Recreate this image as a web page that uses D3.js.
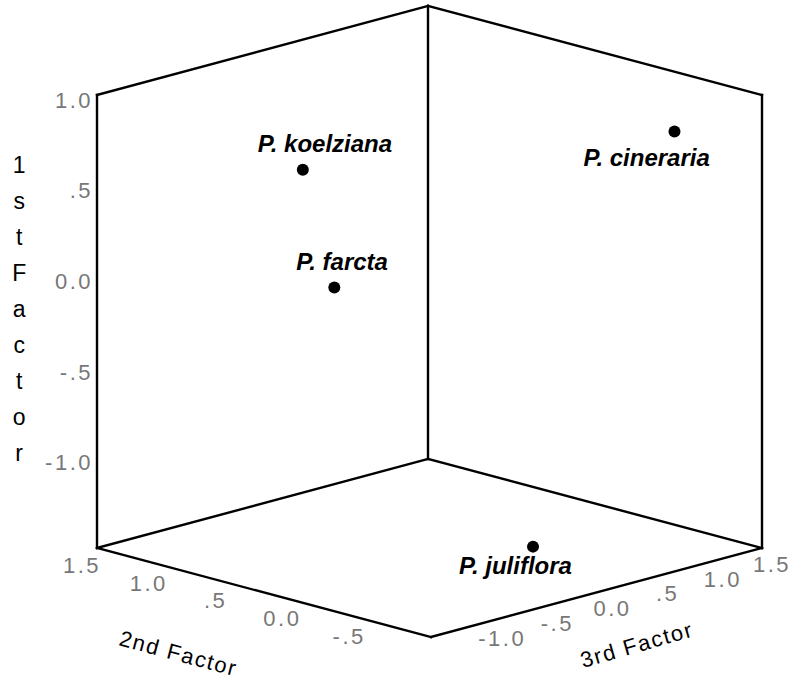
<!DOCTYPE html>
<html>
<head>
<meta charset="utf-8">
<script src="https://cdn.jsdelivr.net/npm/d3@7"></script>
<style>
    body { margin:0; background:white; }
    text { font-family:"Liberation Sans", Arial, Helvetica, sans-serif; }
    .tick { fill:#777; font-size:22px; letter-spacing:2.5px; }
    .title { fill:black; font-size:22px; letter-spacing:1.6px; }
    .name { fill:black; font-size:24px; font-weight:bold; font-style:italic; }
</style>
</head>
<body>
<svg id="graph"></svg>
<script>
// data (factor scores)
var species = ["P. koelziana","P. farcta","P. cineraria","P. juliflora"];
var factor1 = [0.48,-0.02,0.81,-1.35];
var factor2 = [1.0,0.5,-0.7,-0.5];
var factor3 = [-0.24,-0.56,1.07,0.03];

var f1Ticks = [1.0,0.5,0,-0.5,-1.0];
var f1TickText = ["1.0",".5","0.0","-.5","-1.0"];
var f2Ticks = [1.5,1.0,0.5,0,-0.5];
var f2TickText = ["1.5","1.0",".5","0.0","-.5"];
var f3Ticks = [-1.0,-0.5,0,0.5,1.0,1.5];
var f3TickText = ["-1.0","-.5","0.0",".5","1.0","1.5"];

var f1Domain = [-1.5,1.0];
var f2Domain = [-1.0,1.5];
var f3Domain = [-1.5,1.5];

// layout for the name labels (offset from the dot)
var nameOffsets = [[-45,-18],[-38,-18],[-91,34],[-74,27]];

var screen = {width:793,height:680};
var origin = {x:431,y:637};   // front bottom corner

// pseudo 3d: every factor gets its own x and y scale
var s1y = d3.scaleLinear().domain(f1Domain).range([0,-453]);
var s2x = d3.scaleLinear().domain(f2Domain).range([0,-334]);
var s2y = d3.scaleLinear().domain(f2Domain).range([0,-89]);
var s3x = d3.scaleLinear().domain(f3Domain).range([0,331]);
var s3y = d3.scaleLinear().domain(f3Domain).range([0,-89]);

var project = function(a,b,c)
{
    return [origin.x+s2x(b)+s3x(c), origin.y+s1y(a)+s2y(b)+s3y(c)];
}

var drawBox = function(svg)
{
    var lo1 = f1Domain[0], hi1 = f1Domain[1];
    var lo2 = f2Domain[0], hi2 = f2Domain[1];
    var lo3 = f3Domain[0], hi3 = f3Domain[1];
    var edges = [
        // floor
        [[lo1,hi2,lo3],[lo1,lo2,lo3]],
        [[lo1,lo2,lo3],[lo1,lo2,hi3]],
        [[lo1,hi2,lo3],[lo1,hi2,hi3]],
        [[lo1,hi2,hi3],[lo1,lo2,hi3]],
        // verticals
        [[lo1,hi2,lo3],[hi1,hi2,lo3]],
        [[lo1,hi2,hi3],[hi1,hi2,hi3]],
        [[lo1,lo2,hi3],[hi1,lo2,hi3]],
        // top back
        [[hi1,hi2,lo3],[hi1,hi2,hi3]],
        [[hi1,hi2,hi3],[hi1,lo2,hi3]]
    ];
    svg.append("g")
        .selectAll("line")
        .data(edges)
        .enter()
        .append("line")
        .attr("x1",function(e){return project(e[0][0],e[0][1],e[0][2])[0]})
        .attr("y1",function(e){return project(e[0][0],e[0][1],e[0][2])[1]})
        .attr("x2",function(e){return project(e[1][0],e[1][1],e[1][2])[0]})
        .attr("y2",function(e){return project(e[1][0],e[1][1],e[1][2])[1]})
        .attr("stroke","black")
        .attr("stroke-width",2.4)
        .attr("stroke-linecap","square")
}

var drawTicks = function(svg)
{
    var g = svg.append("g");
    //1st factor, on the left edge
    g.selectAll(".t1")
        .data(f1Ticks)
        .enter()
        .append("text")
        .classed("tick",true)
        .attr("text-anchor","end")
        .attr("x",function(d){return project(d,f2Domain[1],f3Domain[0])[0]-4})
        .attr("y",function(d){return project(d,f2Domain[1],f3Domain[0])[1]+5})
        .attr("dy","0.35em")
        .text(function(d,i){return f1TickText[i]})
    //2nd factor, front left floor edge
    g.selectAll(".t2")
        .data(f2Ticks)
        .enter()
        .append("text")
        .classed("tick",true)
        .attr("text-anchor","middle")
        .attr("x",function(d){return project(f1Domain[0],d,f3Domain[0])[0]-15})
        .attr("y",function(d){return project(f1Domain[0],d,f3Domain[0])[1]+17})
        .attr("dy","0.35em")
        .text(function(d,i){return f2TickText[i]})
    //3rd factor, front right floor edge
    g.selectAll(".t3")
        .data(f3Ticks)
        .enter()
        .append("text")
        .classed("tick",true)
        .attr("text-anchor","middle")
        .attr("x",function(d){return Math.min(project(f1Domain[0],f2Domain[0],d)[0]+16,772)})
        .attr("y",function(d){return project(f1Domain[0],f2Domain[0],d)[1]+16})
        .attr("dy","0.35em")
        .text(function(d,i){return f3TickText[i]})
}

var drawLabels = function(svg)
{
    var labels = svg.append("g");
    //1st factor, stacked letters
    labels.selectAll(".v")
        .data("1stFactor".split(""))
        .enter()
        .append("text")
        .classed("title",true)
        .attr("text-anchor","middle")
        .attr("x",20)
        .attr("y",function(d,i){return 173+i*36})
        .style("font-size","23px")
        .text(function(d){return d})

    labels.append("text")
        .classed("title",true)
        .attr("transform","translate(118,645) rotate(15)")
        .text("2nd Factor")

    labels.append("text")
        .classed("title",true)
        .attr("transform","translate(583,668) rotate(-16)")
        .text("3rd Factor")
}

var drawPoints = function(svg)
{
    var pts = svg.append("g")
        .selectAll("g")
        .data(species)
        .enter()
        .append("g")
        .attr("transform",function(d,i)
            {
                var p = project(factor1[i],factor2[i],factor3[i]);
                return "translate("+p[0]+","+p[1]+")";
            })
    pts.append("circle")
        .attr("r",6)
        .attr("fill","black")
    pts.append("text")
        .classed("name",true)
        .attr("x",function(d,i){return nameOffsets[i][0]})
        .attr("y",function(d,i){return nameOffsets[i][1]})
        .text(function(d){return d})
}

var svg = d3.select("#graph")
    .attr("width",screen.width)
    .attr("height",screen.height)

drawBox(svg);
drawTicks(svg);
drawLabels(svg);
drawPoints(svg);
</script>
</body>
</html>
